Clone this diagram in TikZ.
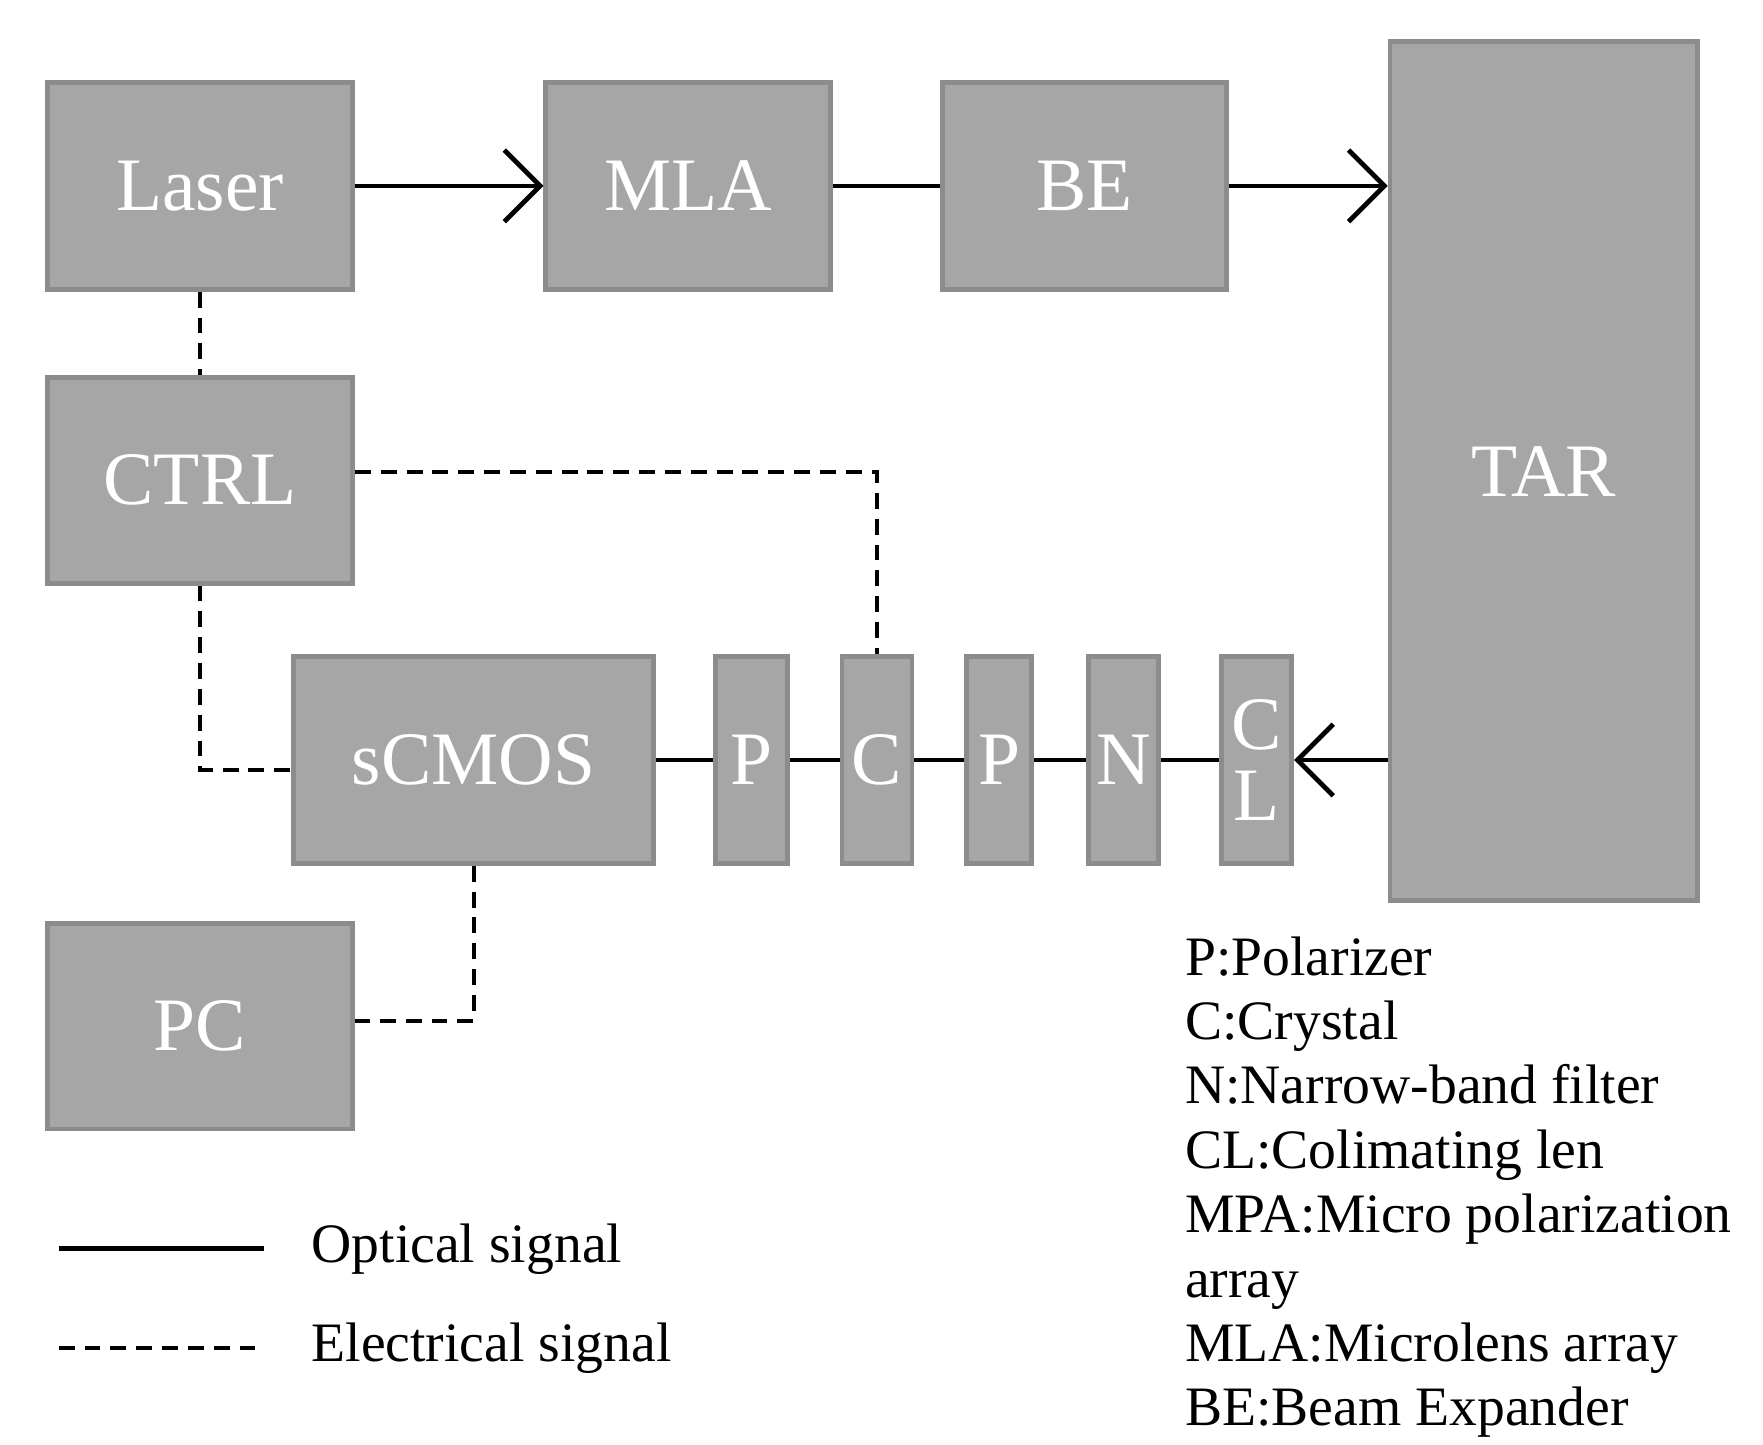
\documentclass[tikz,border=0pt]{standalone}
\usepackage{fontspec}
\setmainfont{Liberation Serif}
\usetikzlibrary{arrows.meta}
\begin{document}
\begin{tikzpicture}[x=0.01cm,y=-0.01cm,
 box/.style={draw=black!45,line width=1.2pt,fill=black!35,text=white,font=\fontsize{19}{22}\selectfont,inner sep=0},
 opt/.style={line width=1.2pt,-{Straight Barb[length=9pt,width=18pt,line width=1.2pt]}},
 ln/.style={line width=1.2pt},
 el/.style={line width=1pt,dash pattern=on 4pt off 2.5pt},
 lg/.style={font=\fontsize{14}{16}\selectfont,anchor=west,inner sep=0}]
\useasboundingbox (0,0) rectangle (1560,1278);
\newcommand{\bx}[6]{\node[box,minimum width=#4*0.01cm-#2*0.01cm,minimum height=#5*0.01cm-#3*0.01cm,align=center] (#1) at ({(#2+#4)/2},{(#3+#5)/2}) {#6};}
\bx{laser}{42}{73}{312}{256}{Laser}
\bx{mla}{483}{73}{735}{256}{MLA}
\bx{be}{834}{73}{1085}{256}{BE}
\bx{tar}{1230}{37}{1502}{797}{TAR}
\bx{ctrl}{42}{334}{312}{516}{CTRL}
\bx{scmos}{260}{581}{578}{764}{sCMOS}
\bx{p1}{633}{581}{697}{764}{P}
\bx{c}{745}{581}{807}{764}{C}
\bx{p2}{855}{581}{913}{764}{P}
\bx{n}{963}{581}{1025}{764}{N}
\bx{cl}{1081}{581}{1143}{764}{C\\[-4pt]L}
\bx{pc}{42}{817}{312}{999}{PC}
\draw[opt] (laser) -- (mla);
\draw[ln] (mla) -- (be);
\draw[opt] (be.east) -- (be.east -| tar.west);
\draw[opt] (tar.west |- cl.east) -- (cl.east);
\draw[ln] (scmos) -- (p1); \draw[ln] (p1) -- (c); \draw[ln] (c) -- (p2);
\draw[ln] (p2) -- (n); \draw[ln] (n) -- (cl);
\draw[el] (laser) -- (ctrl);
\draw[el] (ctrl.east |- 0,418) -| (c.north);
\draw[el] (ctrl.south) |- (scmos.west |- 0,681);
\draw[el] (scmos.south) |- (pc.east |- 0,903);
\coordinate (l1a) at (52,1105); \coordinate (l1b) at (234,1105);
\coordinate (l2a) at (52,1193); \coordinate (l2b) at (234,1193);
\draw[ln] (l1a) -- (l1b); \draw[el] (l2a) -- (l2b);
\node[lg] (t1) at (275,1105) {Optical signal};
\node[lg] (t2) at (275,1193) {Electrical signal};
\node[lg,align=left,anchor=north west,font=\fontsize{14}{16.2}\selectfont] (leg) at (1048,828) {P:Polarizer\\C:Crystal\\N:Narrow-band filter\\CL:Colimating len\\MPA:Micro polarization\\array\\MLA:Microlens array\\BE:Beam Expander};
\end{tikzpicture}
\end{document}
